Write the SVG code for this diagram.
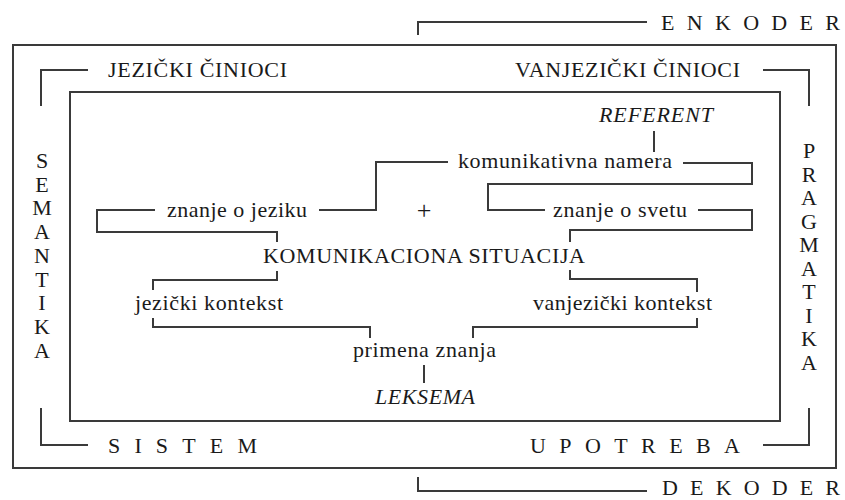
<svg xmlns="http://www.w3.org/2000/svg" width="845" height="500" viewBox="0 0 845 500">
<style>
.ln{fill:none;stroke:#3a3a3a;stroke-width:2;}
.t text{font-size:22px;fill:#1a1a1a;}
.t .plus{font-size:26px;}
.it{font-style:italic;}
.v{text-anchor:middle;}
.c{text-anchor:middle;}
</style>
<rect width="845" height="500" fill="#ffffff"/>
<g id="frames">
<rect class="ln" x="13" y="45" width="823" height="423"/>
<rect class="ln" x="70" y="92" width="710" height="329"/>
</g>
<g id="connectors">
<path class="ln" d="M418,35 V22 H647"/>
<path class="ln" d="M418,477 V491 H647"/>
<path class="ln" d="M41,106 V70 H88"/>
<path class="ln" d="M763,70 H809 V106"/>
<path class="ln" d="M41,408 V445 H88"/>
<path class="ln" d="M763,445 H809 V408"/>
<path class="ln" d="M654,131 V152"/>
<path class="ln" d="M319,210 H376 V162 H448"/>
<path class="ln" d="M683,163 H752 V184 H488 V210 H545"/>
<path class="ln" d="M698,210 H752 V230 H570 V242"/>
<path class="ln" d="M155,210 H97 V232 H277 V242"/>
<path class="ln" d="M277,271 V280 H153 V290"/>
<path class="ln" d="M570,270 V279 H697 V292"/>
<path class="ln" d="M153,318 V327 H370 V338"/>
<path class="ln" d="M697,318 V327 H473 V338"/>
<path class="ln" d="M424,365 V383"/>
</g>
<g class="t" font-family="'Liberation Serif', 'Times New Roman', serif">
<g id="enkoder"><text x="661" y="30" textLength="179" lengthAdjust="spacing">ENKODER</text></g>
<g id="dekoder"><text x="662" y="495" textLength="178" lengthAdjust="spacing">DEKODER</text></g>
<g id="jezicki-cinioci"><text x="108" y="77" textLength="179" lengthAdjust="spacing">JEZIČKI ČINIOCI</text></g>
<g id="vanjezicki-cinioci"><text x="515" y="77" textLength="225" lengthAdjust="spacing">VANJEZIČKI ČINIOCI</text></g>
<g id="sistem"><text x="108" y="453" textLength="149" lengthAdjust="spacing">SISTEM</text></g>
<g id="upotreba"><text x="530" y="453" textLength="210" lengthAdjust="spacing">UPOTREBA</text></g>
<g id="semantika">
<text class="v" x="42" y="168">S</text>
<text class="v" x="42" y="192">E</text>
<text class="v" x="42" y="215">M</text>
<text class="v" x="42" y="239">A</text>
<text class="v" x="42" y="263">N</text>
<text class="v" x="42" y="287">T</text>
<text class="v" x="42" y="310">I</text>
<text class="v" x="42" y="334">K</text>
<text class="v" x="42" y="358">A</text>
</g>
<g id="pragmatika">
<text class="v" x="809" y="158">P</text>
<text class="v" x="809" y="182">R</text>
<text class="v" x="809" y="205">A</text>
<text class="v" x="809" y="229">G</text>
<text class="v" x="809" y="252">M</text>
<text class="v" x="809" y="276">A</text>
<text class="v" x="809" y="299">T</text>
<text class="v" x="809" y="323">I</text>
<text class="v" x="809" y="346">K</text>
<text class="v" x="809" y="370">A</text>
</g>
<g id="referent"><text class="it" x="599" y="122" textLength="114" lengthAdjust="spacing">REFERENT</text></g>
<g id="komunikativna-namera"><text x="458" y="168" textLength="214" lengthAdjust="spacing">komunikativna namera</text></g>
<g id="znanje-o-jeziku"><text x="167" y="217" textLength="140" lengthAdjust="spacing">znanje o jeziku</text></g>
<g id="plus"><text class="c plus" x="424" y="219">+</text></g>
<g id="znanje-o-svetu"><text x="553" y="217" textLength="134" lengthAdjust="spacing">znanje o svetu</text></g>
<g id="komunikaciona-situacija"><text x="263" y="263" textLength="322" lengthAdjust="spacing">KOMUNIKACIONA SITUACIJA</text></g>
<g id="jezicki-kontekst"><text x="135" y="310" textLength="148" lengthAdjust="spacing">jezički kontekst</text></g>
<g id="vanjezicki-kontekst"><text x="533" y="310" textLength="179" lengthAdjust="spacing">vanjezički kontekst</text></g>
<g id="primena-znanja"><text x="353" y="357" textLength="143" lengthAdjust="spacing">primena znanja</text></g>
<g id="leksema"><text class="it" x="375" y="404" textLength="100" lengthAdjust="spacing">LEKSEMA</text></g>
</g>
</svg>
